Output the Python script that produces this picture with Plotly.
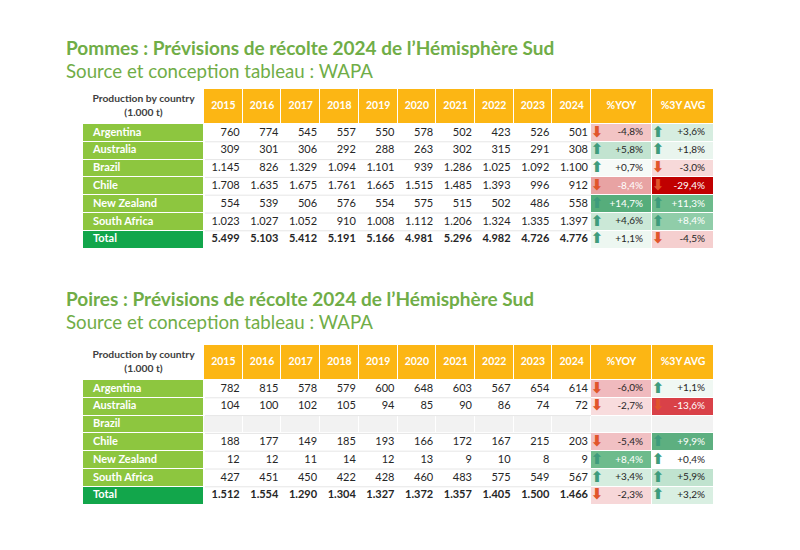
import plotly.graph_objects as go

# ---------------- data ----------------
YEARS = ["2015", "2016", "2017", "2018", "2019", "2020", "2021", "2022", "2023", "2024"]
COUNTRIES = ["Argentina", "Australia", "Brazil", "Chile", "New Zealand", "South Africa", "Total"]
HEADER_LABEL = "Production by country<br>(1.000 t)"
PCT_HEADERS = ["%YOY", "%3Y AVG"]

# Pommes (1.000 t)
apples_argentina = [760, 774, 545, 557, 550, 578, 502, 423, 526, 501]
apples_australia = [309, 301, 306, 292, 288, 263, 302, 315, 291, 308]
apples_brazil = [1145, 826, 1329, 1094, 1101, 939, 1286, 1025, 1092, 1100]
apples_chile = [1708, 1635, 1675, 1761, 1665, 1515, 1485, 1393, 996, 912]
apples_new_zealand = [554, 539, 506, 576, 554, 575, 515, 502, 486, 558]
apples_south_africa = [1023, 1027, 1052, 910, 1008, 1112, 1206, 1324, 1335, 1397]
apples_total = [5499, 5103, 5412, 5191, 5166, 4981, 5296, 4982, 4726, 4776]
apples_yoy = [-4.8, 5.8, 0.7, -8.4, 14.7, 4.6, 1.1]
apples_3y = [3.6, 1.8, -3.0, -29.4, 11.3, 8.4, -4.5]

# Poires (1.000 t)
pears_argentina = [782, 815, 578, 579, 600, 648, 603, 567, 654, 614]
pears_australia = [104, 100, 102, 105, 94, 85, 90, 86, 74, 72]
pears_brazil = [None, None, None, None, None, None, None, None, None, None]
pears_chile = [188, 177, 149, 185, 193, 166, 172, 167, 215, 203]
pears_new_zealand = [12, 12, 11, 14, 12, 13, 9, 10, 8, 9]
pears_south_africa = [427, 451, 450, 422, 428, 460, 483, 575, 549, 567]
pears_total = [1512, 1554, 1290, 1304, 1327, 1372, 1357, 1405, 1500, 1466]
pears_yoy = [-6.0, -2.7, None, -5.4, 8.4, 3.4, -2.3]
pears_3y = [1.1, -13.6, None, 9.9, 0.4, 5.9, 3.2]

# ---------------- styles ----------------
ORANGE = "#FCB614"
GREEN = "#8DC63F"
DKGREEN = "#12A64B"
WHITE = "#FFFFFF"
GREY = "#F2F2F2"
RULE = "#E6E6E6"
TXT = "#262626"
HDR_TXT = "#404040"
TITLE_GREEN = "#70AD47"
UP_COL = "#3F9C7C"
DOWN_COL = "#E1552B"

apples_yoy_fill = ["#F2C4C4", "#C2E3D0", "#F6FAF7", "#E8A3A3", "#56AD7B", "#CBE8D7", "#EDF7F1"]
apples_3y_fill = ["#D6EDE0", "#E9F5EE", "#F7D9D9", "#C00000", "#6CBA8B", "#90CDA9", "#F5CFCF"]
pears_yoy_fill = ["#F0BABE", "#F8DCDD", GREY, "#F1C0C3", "#6DBB8C", "#D5EDDF", "#F7D7D8"]
pears_3y_fill = ["#F0F8F3", "#D94148", GREY, "#5DAF80", "#FFFFFF", "#C0E3CF", "#D9EFE2"]

FONT = "Lato"
W, H = 800, 550
LEFT = 83
LABEL_W = 121
YEAR_W = 38.7
PCT_W = [61, 62]
HEADER_H = 35
ROW_H = 17.8
LABEL_PAD = 10
NUM_PAD = 3
PCT_PAD = 9
ARROW_OFF = 6


def fmt_int(v):
    return "" if v is None else f"{v:,}".replace(",", ".")


def fmt_pct(v):
    return "" if v is None else f"{v:+.1f}%".replace(".", ",")


def lum(hexc):
    r, g, b = int(hexc[1:3], 16), int(hexc[3:5], 16), int(hexc[5:7], 16)
    return (0.299 * r + 0.587 * g + 0.114 * b) / 255


def cumsum(start, widths):
    out = [start]
    for w in widths:
        out.append(out[-1] + w)
    return out


def text_trace(xs, ys, texts, colors, size, pos, family=FONT):
    return go.Scatter(x=xs, y=ys, text=texts, mode="text", textposition=pos,
                      textfont=dict(family=family, size=size, color=colors),
                      hoverinfo="skip", showlegend=False, cliponaxis=False)


def section(rows, yoy, y3, yoy_fill, y3_fill, top):
    n = len(rows)
    widths = [LABEL_W] + [YEAR_W] * len(YEARS) + PCT_W
    xe = cumsum(LEFT, widths)
    ye = cumsum(top, [HEADER_H] + [ROW_H] * n)
    xc = [(a + b) / 2 for a, b in zip(xe[:-1], xe[1:])]
    yc = [(a + b) / 2 for a, b in zip(ye[:-1], ye[1:])]
    empty = [all(v is None for v in r) for r in rows]

    # colour grid
    grid = [[WHITE] + [ORANGE] * (len(widths) - 1)]
    for i in range(n):
        lab = DKGREEN if i == n - 1 else GREEN
        dfill = GREY if empty[i] else WHITE
        grid.append([lab] + [dfill] * len(YEARS) + [yoy_fill[i], y3_fill[i]])
    palette = []
    for row in grid:
        for c in row:
            if c not in palette:
                palette.append(c)
    K = len(palette)
    cs = []
    for k, c in enumerate(palette):
        cs.append([k / K, c])
        cs.append([(k + 1) / K, c])
    z = [[palette.index(c) + 0.5 for c in row] for row in grid]

    traces = [go.Heatmap(x=xe, y=ye, z=z, colorscale=cs, zmin=0, zmax=K,
                         showscale=False, xgap=1, ygap=1, hoverinfo="skip")]

    # faint row rules across the year columns
    rx, ry = [], []
    for k in range(2, n + 1):
        rx += [xe[1] + 1, xe[1 + len(YEARS)], None]
        ry += [ye[k], ye[k], None]
    traces.append(go.Scatter(x=rx, y=ry, mode="lines", line=dict(color=RULE, width=1),
                             hoverinfo="skip", showlegend=False))

    # header texts
    traces.append(text_trace([xc[0]], [yc[0]], [f"<b>{HEADER_LABEL}</b>"], HDR_TXT, 10.3, "middle center"))
    htx = [f"<b>{t}</b>" for t in YEARS + PCT_HEADERS]
    traces.append(text_trace(xc[1:], [yc[0]] * len(htx), htx, WHITE, 10.5, "middle center"))

    # row labels
    traces.append(text_trace([xe[0] + LABEL_PAD] * n, yc[1:], [f"<b>{c}</b>" for c in COUNTRIES],
                             WHITE, 11, "middle right"))

    # numbers
    nx, ny, nt = [], [], []
    for i, r in enumerate(rows):
        for j, v in enumerate(r):
            if v is None:
                continue
            s = fmt_int(v)
            nx.append(xe[j + 2] - NUM_PAD)
            ny.append(yc[i + 1])
            nt.append(f"<b>{s}</b>" if i == n - 1 else s)
    traces.append(text_trace(nx, ny, nt, TXT, 11, "middle left"))

    # percentages + arrows
    px_, py_, pt_, pc_ = [], [], [], []
    ax_, ay_, at_, ac_ = [], [], [], []
    for ci, (vals, fills) in enumerate([(yoy, yoy_fill), (y3, y3_fill)]):
        left_e = xe[1 + len(YEARS) + ci]
        right_e = xe[2 + len(YEARS) + ci]
        for i, v in enumerate(vals):
            if v is None:
                continue
            px_.append(right_e - PCT_PAD)
            py_.append(yc[i + 1])
            pt_.append(fmt_pct(v))
            pc_.append(WHITE if lum(fills[i]) < 0.75 else TXT)
            ax_.append(left_e + ARROW_OFF)
            ay_.append(yc[i + 1])
            at_.append("<b>⬆</b>" if v >= 0 else "<b>⬇</b>")
            ac_.append(UP_COL if v >= 0 else DOWN_COL)
    traces.append(text_trace(px_, py_, pt_, pc_, 10, "middle left"))
    traces.append(text_trace(ax_, ay_, at_, ac_, 15, "middle center", family="DejaVu Sans"))
    return traces


apples_rows = [apples_argentina, apples_australia, apples_brazil, apples_chile,
               apples_new_zealand, apples_south_africa, apples_total]
pears_rows = [pears_argentina, pears_australia, pears_brazil, pears_chile,
              pears_new_zealand, pears_south_africa, pears_total]

fig = go.Figure()
for t in section(apples_rows, apples_yoy, apples_3y, apples_yoy_fill, apples_3y_fill, 89):
    fig.add_trace(t)
for t in section(pears_rows, pears_yoy, pears_3y, pears_yoy_fill, pears_3y_fill, 345):
    fig.add_trace(t)

titles = [
    ("<b>Pommes : Prévisions de récolte 2024 de l’Hémisphère Sud</b>", 47, 19),
    ("Source et conception tableau : WAPA", 71, 18.7),
    ("<b>Poires : Prévisions de récolte 2024 de l’Hémisphère Sud</b>", 298, 19),
    ("Source et conception tableau : WAPA", 322, 18.7),
]
for txt, ypx, sz in titles:
    fig.add_annotation(text=txt, x=64, y=ypx, xref="x", yref="y",
                       xanchor="left", yanchor="middle", showarrow=False,
                       font=dict(family=FONT, size=sz, color=TITLE_GREEN))

fig.update_xaxes(range=[0, W], visible=False, fixedrange=True)
fig.update_yaxes(range=[H, 0], visible=False, fixedrange=True)
fig.update_layout(width=W, height=H, margin=dict(l=0, r=0, t=0, b=0),
                  paper_bgcolor=WHITE, plot_bgcolor=WHITE, showlegend=False)
fig.write_html("out.html", config={"displayModeBar": False},
               post_script="document.body.style.margin='0';")
